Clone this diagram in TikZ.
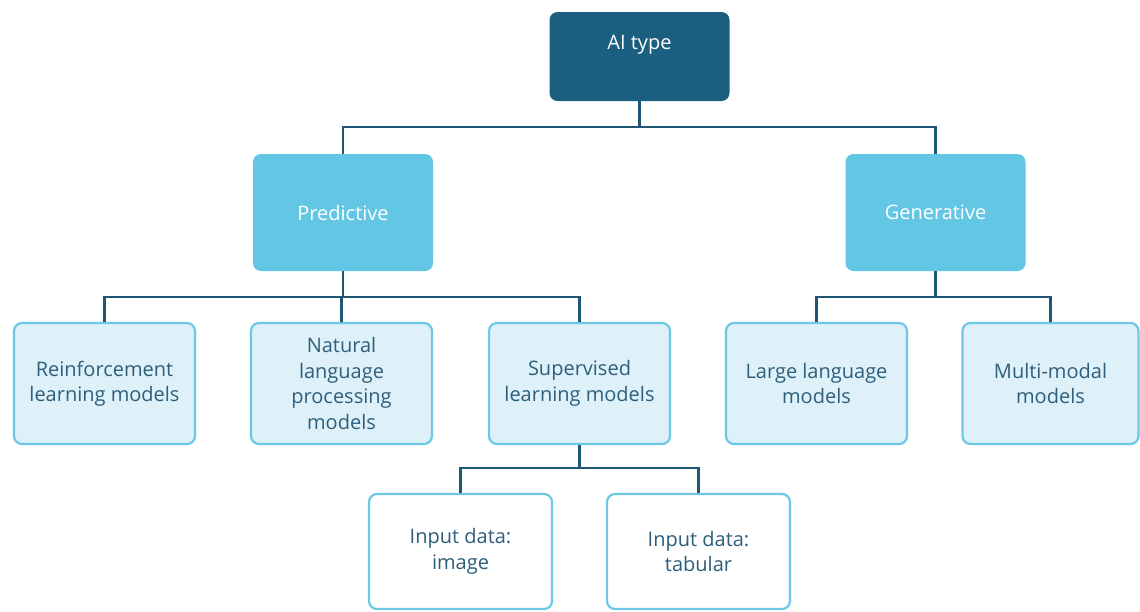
\documentclass[tikz,border=0pt]{standalone}
\usepackage{fontspec}
\setmainfont{Open Sans}
\definecolor{topfill}{HTML}{1B5F80}
\definecolor{midfill}{HTML}{62C6E4}
\definecolor{leaffill}{HTML}{DFF1F8}
\definecolor{leafdraw}{HTML}{6CC8E6}
\definecolor{leaftext}{HTML}{2D5F7C}
\definecolor{conncol}{HTML}{1F5676}
\tikzset{
  base/.style={rounded corners=8pt, align=center, inner sep=0pt, font=\fontsize{20}{25.5}\selectfont},
  topbox/.style={base, fill=topfill, text=white, minimum width=180pt, text height=37pt, text depth=52pt},
  midbox/.style={base, fill=midfill, text=white, minimum width=180pt, minimum height=117pt},
  leafbox/.style={base, fill=leaffill, draw=leafdraw, line width=2.2pt, text=leaftext, minimum width=181pt, minimum height=121pt},
  subbox/.style={base, fill=white, draw=leafdraw, line width=2.2pt, text=leaftext, minimum width=183pt, minimum height=115pt},
  conn/.style={draw=conncol, line width=2.6pt}
}
\begin{document}
\begin{tikzpicture}[x=1pt,y=-1pt]
\fill[white] (0,0) rectangle (1140,611);
\clip (0,0) rectangle (1140,611);
\node[topbox] (top) at (639.5,56.5) {AI type};
\node[midbox] (pred) at (343,212.5) {Predictive};
\node[midbox] (gen) at (935.5,212.5) {Generative};
\node[leafbox] (rl) at (104.5,383.5) {Reinforcement\\learning models};
\node[leafbox] (nlp) at (341.5,383.5) {Natural\\language\\processing\\models};
\node[leafbox] (sl) at (579.5,383.5) {Supervised\\learning models};
\node[leafbox] (llm) at (816.5,383.5) {Large language\\models};
\node[leafbox, minimum width=176pt] (mm) at (1050.5,383.5) {Multi-modal\\models};
\node[subbox] (img) at (460.5,551.5) {Input data:\\image};
\node[subbox] (tab) at (698.5,551.5) {Input data:\\tabular};
\draw[conn] (top.south) -- ++(0,26);
\draw[conn] (pred.north) -- ++(0,-27) -| (gen.north);
\draw[conn] (pred.south) -- ++(0,26);
\draw[conn] (rl.north) -- ++(0,-25) -| (sl.north);
\draw[conn] (nlp.north) -- ++(0,-25);
\draw[conn] (gen.south) -- ++(0,26);
\draw[conn] (llm.north) -- ++(0,-25) -| (mm.north);
\draw[conn] (sl.south) -- ++(0,23);
\draw[conn] (img.north) -- ++(0,-25) -| (tab.north);
\end{tikzpicture}
\end{document}
